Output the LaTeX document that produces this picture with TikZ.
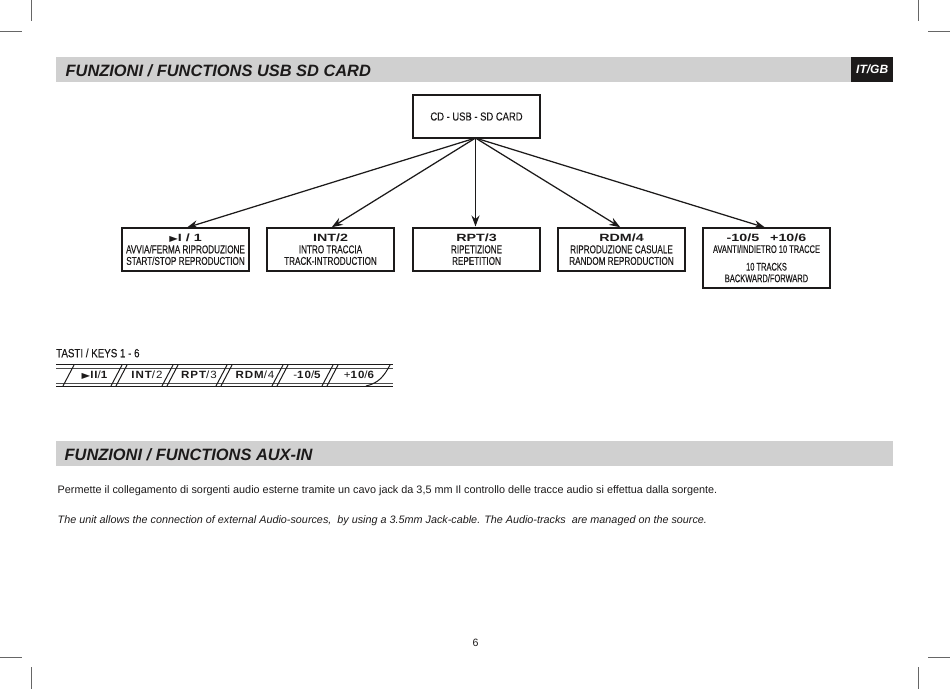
\documentclass[tikz,border=0pt]{standalone}
\usepackage{fontspec}
\setmainfont{Liberation Sans}
\newfontfamily\condfont[FakeStretch=0.72,FakeBold=0.25]{Liberation Sans}
\newfontfamily\tallfont[FakeStretch=0.82,FakeBold=0.25]{Liberation Sans}
\newfontfamily\narrowfont[FakeStretch=0.68,FakeBold=0.25]{Liberation Sans}
\newfontfamily\widefont[FakeStretch=1.36]{Liberation Sans}
\newfontfamily\spacedfont[FakeStretch=1.1,LetterSpace=9]{Liberation Sans}
\newfontfamily\symfont[FakeStretch=1.4]{DejaVu Sans}
\usetikzlibrary{arrows.meta, positioning}
\definecolor{barmid}{RGB}{208,208,208}
\definecolor{inkdark}{RGB}{28,26,26}
\newcommand{\playkey}{{\symfont\fontsize{8}{8}\selectfont\symbol{"25B6}}}
\newcommand{\boxcap}{\widefont\bfseries\fontsize{10.5}{11}\selectfont}
\begin{document}
\begin{tikzpicture}[x=1pt, y=-1pt,
  box/.style={draw=inkdark, line width=1.1pt, minimum width=127pt, minimum height=43pt,
              inner sep=0pt, outer sep=0pt, anchor=north west, align=center, text=inkdark,
              font=\condfont\fontsize{11.3}{11.6}\selectfont},
  bar/.style={fill=barmid, minimum width=795pt, minimum height=25pt, inner sep=0pt,
              anchor=north west, text=inkdark},
  head/.style={anchor=west, inner sep=0pt, text=inkdark,
               font=\fontsize{16.4}{17}\selectfont\bfseries\itshape},
  keycap/.style={font=\spacedfont\fontsize{10.5}{11}\selectfont\bfseries, inner sep=0pt, text=inkdark},
  plain/.style={anchor=west, inner sep=0pt, text=inkdark, font=\fontsize{10.85}{12}\selectfont},
  arr/.style={-{Stealth[length=11pt, width=8pt]}, inkdark, line width=1.25pt, shorten >=1.5pt},
  crop/.style={draw=black!60, line width=0.7pt},
  rail/.style={draw=inkdark, line width=1.3pt},
  thin/.style={draw=black!70, line width=0.6pt},
  slant/.style={draw=inkdark, line width=1pt},
]
  \useasboundingbox (0,0) rectangle (950,689);

  % crop marks
  \draw[crop] (31,0) -- (31,21);
  \draw[crop] (0,31) -- (22,31);
  \draw[crop] (918,0) -- (918,21);
  \draw[crop] (928,31) -- (950,31);
  \draw[crop] (31,667) -- (31,689);
  \draw[crop] (0,657) -- (22,657);
  \draw[crop] (918,667) -- (918,689);
  \draw[crop] (928,657) -- (950,657);

  % section bars
  \node[bar] (bar1) at (56,57) {};
  \node[head] (head1) at (65.5,70.5) {FUNZIONI / FUNCTIONS USB SD CARD};
  \node[fill=inkdark, text=white, minimum width=42pt, minimum height=25pt, inner sep=0pt,
        anchor=north west, font=\fontsize{12}{12}\selectfont\bfseries\itshape] (lang) at (851,57) {IT/GB};
  \node[bar, minimum width=837pt] (bar2) at (56,441) {};
  \node[head] (head2) at (64.5,454.5) {FUNZIONI / FUNCTIONS AUX-IN};

  % tree
  \node[box, font=\tallfont\fontsize{11.5}{12}\selectfont] (cd) at (413,95) {CD - USB - SD CARD};
  \node[box] (play) at (122,228) {{\boxcap\playkey I / 1}\\AVVIA/FERMA RIPRODUZIONE\\START/STOP REPRODUCTION};
  \node[box, right=18pt of play.north east, anchor=north west] (intro) {{\boxcap INT/2}\\INTRO TRACCIA\\TRACK-INTRODUCTION};
  \node[box, right=19pt of intro.north east, anchor=north west] (rpt) {{\boxcap RPT/3}\\RIPETIZIONE\\REPETITION};
  \node[box, right=18pt of rpt.north east, anchor=north west] (rdm) {{\boxcap RDM/4}\\RIPRODUZIONE CASUALE\\RANDOM REPRODUCTION};
  \node[box, right=18pt of rdm.north east, anchor=north west, minimum height=60pt,
        font=\narrowfont\fontsize{11}{11.6}\selectfont] (skip) {{\boxcap -10/5\hspace{11pt}+10/6}\\AVANTI/INDIETRO 10 TRACCE\\[6pt]10 TRACKS\\BACKWARD/FORWARD};
  \draw[arr] ([xshift=-1pt]cd.south) -- (play.north);
  \draw[arr] ([xshift=-1pt]cd.south) -- (intro.north);
  \draw[arr] ([xshift=-1pt]cd.south) -- ([xshift=-1pt]rpt.north);
  \draw[arr] ([xshift=-1pt]cd.south) -- (rdm.north);
  \draw[arr] ([xshift=-1pt]cd.south) -- (skip.north);

  % key strip
  \node[plain, font=\tallfont\fontsize{11.9}{12}\selectfont] (keys) at (56,353) {TASTI / KEYS 1 - 6};
  \draw[rail] (56,364.5) -- (393,364.5);
  \draw[thin] (56,368) -- (393,368);
  \draw[thin] (56,383) -- (393,383);
  \draw[rail] (56,386.5) -- (393,386.5);
  \foreach \xa in {74,122,127,173,178,227,232,283,288,333,338}
    \draw[slant] (\xa,365) -- (\xa-11,386);
  \draw[slant] (390,365) .. controls (384,376) and (379,383) .. (366,386);
  \node[keycap] (key1) at (94.5,375) {\playkey II{\mdseries/}1};
  \node[keycap] (key2) at (147,375) {INT{\mdseries/2}};
  \node[keycap] (key3) at (199,375) {RPT{\mdseries/3}};
  \node[keycap] (key4) at (255,375) {RDM{\mdseries/4}};
  \node[keycap] (key5) at (307,375) {{\mdseries -}10{\mdseries/}5};
  \node[keycap] (key6) at (359,375) {{\mdseries +}10{\mdseries/}6};

  % body text
  \node[plain] (ittext) at (57.5,490.5) {Permette il collegamento di sorgenti audio esterne tramite un cavo jack da 3,5 mm Il controllo delle tracce audio si effettua dalla sorgente.};
  \node[plain, font=\fontsize{10.8}{12}\selectfont\itshape] (gbtext) at (57.5,520.5) {The unit allows the connection of external Audio-sources,\ \ by using a 3.5mm Jack-cable. The Audio-tracks\ \ are managed on the source.};
  \node[inner sep=0pt, text=inkdark, font=\fontsize{10.6}{12}\selectfont] (page) at (475.5,643) {6};
\end{tikzpicture}
\end{document}
